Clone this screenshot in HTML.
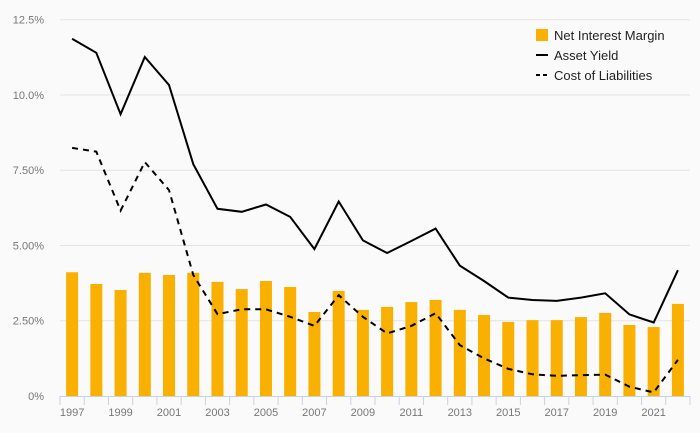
<!DOCTYPE html>
<html><head><meta charset="utf-8"><style>
html,body{margin:0;padding:0;background:#fafafa;}
svg{display:block;font-family:"Liberation Sans",sans-serif;}
</style></head><body>
<svg id="chart" width="700" height="433">
<rect width="700" height="433" fill="#fafafa"/>
<g id="grid"></g><g id="bars"></g><g id="lines"></g><g id="axis"></g>
<g font-size="13" fill="#222">
 <rect x="536" y="29" width="12" height="12" fill="#f9b000"/>
 <text x="554" y="40">Net Interest Margin</text>
 <line x1="536" x2="548" y1="55" y2="55" stroke="#000" stroke-width="2"/>
 <text x="554" y="60">Asset Yield</text>
 <line x1="536" x2="548" y1="75" y2="75" stroke="#000" stroke-width="2" stroke-dasharray="4,3"/>
 <text x="554" y="80">Cost of Liabilities</text>
</g>
</svg>
<script>
const years=[1997,1998,1999,2000,2001,2002,2003,2004,2005,2006,2007,2008,2009,2010,2011,2012,2013,2014,2015,2016,2017,2018,2019,2020,2021,2022];
const nim=[4.11,3.72,3.52,4.09,4.02,4.09,3.79,3.55,3.82,3.62,2.79,3.49,2.86,2.96,3.12,3.19,2.86,2.69,2.46,2.52,2.52,2.62,2.76,2.36,2.29,3.06];
const assetYield=[11.87,11.40,9.36,11.26,10.33,7.70,6.22,6.12,6.36,5.95,4.88,6.46,5.17,4.75,5.15,5.56,4.33,3.82,3.27,3.19,3.16,3.27,3.41,2.71,2.44,4.18];
const costLiab=[8.24,8.12,6.16,7.77,6.84,4.02,2.72,2.88,2.88,2.63,2.33,3.35,2.63,2.08,2.33,2.75,1.69,1.25,0.90,0.72,0.67,0.69,0.71,0.31,0.12,1.20];
const yTicks=[0,2.5,5,7.5,10,12.5];
const yTickLabels=["0%","2.50%","5.00%","7.50%","10.0%","12.5%"];
const NS="http://www.w3.org/2000/svg";
const L=60,R=690,T=19.7,B=396,yMax=12.5;
const bw=(R-L)/years.length;
const x=i=>L+bw*(i+0.5);
const y=v=>B-(v/yMax)*(B-T);
function mk(tag,attrs,parent){const e=document.createElementNS(NS,tag);for(const k in attrs)e.setAttribute(k,attrs[k]);document.getElementById(parent).appendChild(e);return e;}
yTicks.forEach((t,i)=>{
 if(t>0){const g=mk('line',{x1:L,x2:R,y1:y(t),y2:y(t),stroke:'#e3e3e3','stroke-width':1},'grid');
 
 }
 const tx=mk('text',{x:44,y:y(t)+4,'text-anchor':'end','font-size':11,fill:'#777'},'grid');
 tx.textContent=yTickLabels[i];
 
 
});
years.forEach((yr,i)=>{
 const b=mk('rect',{x:x(i)-6,y:y(nim[i]),width:12,height:B-y(nim[i]),fill:'#f9b000'},'bars');
 
 
});
const pts=a=>a.map((v,i)=>x(i).toFixed(1)+','+y(v).toFixed(1)).join(' ');
const l1=mk('polyline',{points:pts(assetYield),fill:'none',stroke:'#000','stroke-width':2,'stroke-linejoin':'miter'},'lines');


const l2=mk('polyline',{points:pts(costLiab),fill:'none',stroke:'#000','stroke-width':2,'stroke-dasharray':'6,5'},'lines');


const ax=mk('line',{x1:L,x2:R,y1:B+0.5,y2:B+0.5,stroke:'#c5d3e8','stroke-width':1},'axis');


for(let i=0;i<=years.length;i++){
 const tk=mk('line',{x1:L+bw*i,x2:L+bw*i,y1:B,y2:B+9,stroke:'#c5d3e8','stroke-width':1},'axis');
 
 
}
years.forEach((yr,i)=>{
 if(i%2) return;
 const t=mk('text',{x:x(i),y:416,'text-anchor':'middle','font-size':11,fill:'#777'},'axis');
 t.textContent=yr;
 
 
});
</script>
</body></html>
